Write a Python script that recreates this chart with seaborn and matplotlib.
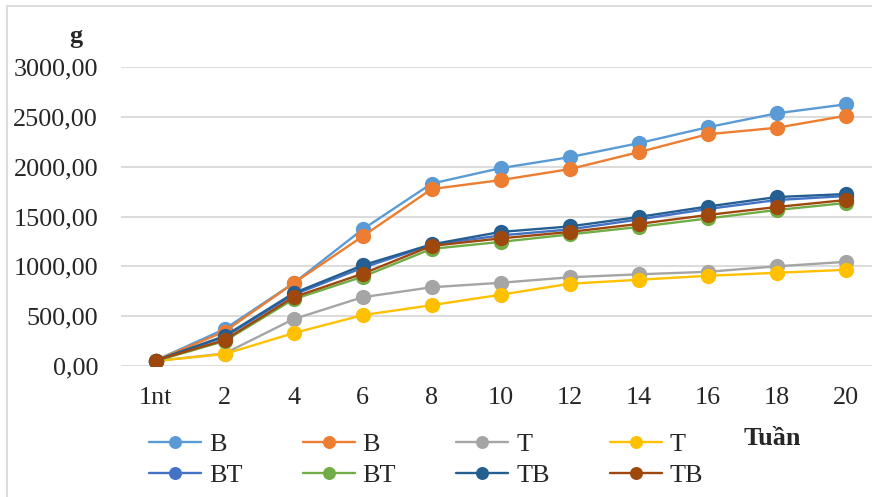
import pandas as pd
import numpy as np
import seaborn as sns
import matplotlib.pyplot as plt
from matplotlib.ticker import FuncFormatter
from matplotlib.patches import Rectangle

tuan = ['1nt', '2', '4', '6', '8', '10', '12', '14', '16', '18', '20']

b_1 = [55, 370, 830, 1370, 1830, 1985, 2095, 2235, 2395, 2535, 2625]
b_2 = [55, 345, 830, 1300, 1775, 1865, 1975, 2145, 2325, 2390, 2510]
t_1 = [50, 125, 470, 690, 790, 835, 890, 920, 945, 1000, 1045]
t_2 = [50, 120, 330, 510, 610, 715, 825, 865, 905, 935, 965]
bt_1 = [55, 290, 715, 985, 1215, 1310, 1370, 1470, 1575, 1665, 1705]
bt_2 = [50, 250, 670, 895, 1175, 1245, 1320, 1395, 1480, 1565, 1635]
tb_1 = [55, 300, 730, 1010, 1220, 1345, 1400, 1495, 1600, 1695, 1725]
tb_2 = [55, 260, 690, 925, 1205, 1280, 1345, 1425, 1515, 1595, 1665]

ten = ['B', 'B', 'T', 'T', 'BT', 'BT', 'TB', 'TB']
mau = ['#5B9BD5', '#ED7D31', '#A5A5A5', '#FFC000', '#4472C4', '#70AD47', '#255E91', '#9E480E']
chuoi = [b_1, b_2, t_1, t_2, bt_1, bt_2, tb_1, tb_2]

# bang dai cho seaborn, moi chuoi mot khoa rieng vi ten bi trung
bang = pd.DataFrame({
    'Tuan': tuan * len(chuoi),
    'g': np.concatenate(chuoi),
    'khoa': np.repeat([f's{i}' for i in range(len(chuoi))], len(tuan)),
})
bang_mau = {f's{i}': mau[i] for i in range(len(chuoi))}

sns.set_style('white')
plt.rcParams['font.family'] = ['Liberation Serif', 'DejaVu Serif']
co_chu = 18.8

fig = plt.figure(figsize=(8.72, 4.97), dpi=100)
ax = fig.add_axes([121 / 872, 1 - 366 / 497, 759 / 872, 299 / 497])

sns.lineplot(data=bang, x='Tuan', y='g', hue='khoa', palette=bang_mau, marker='o',
             markersize=11, markeredgewidth=0, linewidth=1.7, sort=False, ax=ax)

ax.set_xlim(-0.5, len(tuan) - 0.5)
ax.set_ylim(0, 3000)
ax.set_yticks(np.arange(0, 3001, 500))
ax.yaxis.set_major_formatter(FuncFormatter(lambda v, p: f'{v:.2f}'.replace('.', ',')))
ax.grid(axis='y', color='#D9D9D9', linewidth=1.3)
ax.set_axisbelow(True)
for s in ax.spines.values():
    s.set_visible(False)
ax.tick_params(axis='both', length=0, labelsize=co_chu)
ax.tick_params(axis='y', pad=16.5)
ax.tick_params(axis='x', pad=15)
ax.set_xlabel('')
ax.set_ylabel('')

h, l = ax.get_legend_handles_labels()
thu_tu = [0, 4, 1, 5, 2, 6, 3, 7]
ax.legend([h[i] for i in thu_tu], [ten[i] for i in thu_tu], ncol=4, frameon=False,
          loc='upper left', bbox_to_anchor=(149 / 872, 1 - 433 / 497), bbox_transform=fig.transFigure,
          borderpad=0, borderaxespad=0, fontsize=co_chu, handlelength=2.0, handletextpad=0.3,
          columnspacing=2.3, labelspacing=0.3, markerscale=0.85)

fig.text(76 / 872, 1 - 43 / 497, 'g', fontsize=co_chu, fontweight='bold', ha='center', va='baseline')
fig.text(772 / 872, 1 - 445 / 497, 'Tuần', fontsize=co_chu, fontweight='bold', ha='center', va='baseline')

fig.patches.append(Rectangle((7 / 872, -0.1), 2, 1.1 - 6 / 497, transform=fig.transFigure,
                             fill=False, edgecolor='#D9D9D9', linewidth=1.3))

fig.savefig('out.png', dpi=100)
